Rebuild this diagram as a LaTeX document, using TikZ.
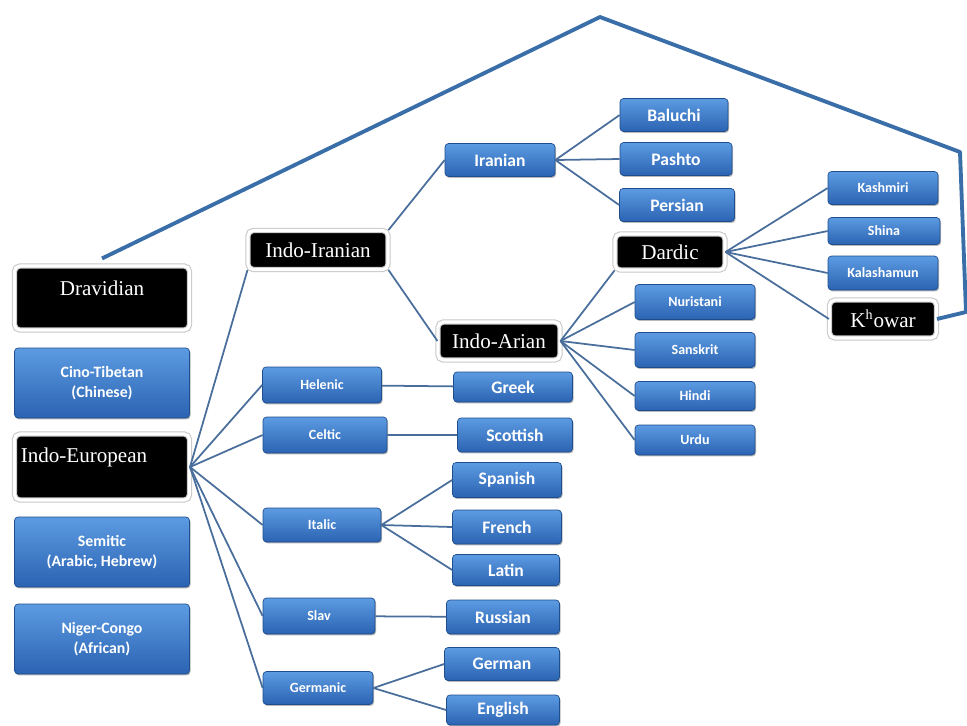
\documentclass[tikz,border=0pt]{standalone}
\usepackage{fontspec}
\setmainfont{Liberation Serif}
\newfontfamily\carlito{Carlito}
\usetikzlibrary{shadows}
\definecolor{boxtop}{HTML}{5C9BE2}
\definecolor{boxbot}{HTML}{2B63B2}
\definecolor{boxedge}{HTML}{1F4E8C}
\definecolor{linkcol}{HTML}{4A6E9C}
\definecolor{rimcol}{HTML}{3A6EA8}
\tikzstyle{lang} = [rectangle, rounded corners=2pt, top color=boxtop, bottom color=boxbot, draw=boxedge, text=white, font=\carlito\bfseries, minimum width=2.3cm, minimum height=0.66cm, inner sep=1pt, text centered, drop shadow={shadow xshift=0.6pt, shadow yshift=-0.8pt, fill=black!55}]
\tikzstyle{sublang} = [lang, font=\carlito\bfseries\footnotesize]
\tikzstyle{bigbox} = [lang, font=\carlito\bfseries\small, minimum width=3.5cm, minimum height=1.4cm, align=center]
\tikzstyle{family} = [rectangle, rounded corners=3pt, fill=black, draw=black!22, double=white, double distance=1.8pt, line width=0.6pt, text=white, font=\large, inner sep=2pt, drop shadow={shadow xshift=0.8pt, shadow yshift=-0.8pt, fill=black!20}]
\tikzstyle{link} = [draw=linkcol, line width=1pt]
\tikzstyle{rim} = [draw=rimcol, line width=2.2pt, line join=round]
\begin{document}
\begin{tikzpicture}[x=0.02cm, y=-0.02cm]
\useasboundingbox (0,0) rectangle (967,725);
% left column
\node (Dravidian) [family, minimum width=3.5cm, minimum height=1.28cm, align=center] at (102,298) {Dravidian\\[-3pt]\mbox{}};
\node (CinoTibetan) [bigbox] at (102,383) {Cino-Tibetan\\(Chinese)};
\node (IndoEuropean) [family, minimum width=3.5cm, minimum height=1.32cm, text width=3.25cm, align=left] at (102,467) {Indo-European\\\mbox{}};
\node (Semitic) [bigbox] at (102,552) {Semitic\\(Arabic, Hebrew)};
\node (NigerCongo) [bigbox] at (102,639) {Niger-Congo\\(African)};
% indo-iranian branch
\node (IndoIranian) [family, minimum width=2.8cm, minimum height=0.78cm] at (318,250) {Indo-Iranian};
\node (Iranian) [lang, minimum width=2.2cm] at (500,160) {Iranian};
\node (Baluchi) [lang, minimum width=2.16cm] at (674,115) {Baluchi};
\node (Pashto) [lang, minimum width=2.24cm] at (676,159) {Pashto};
\node (Persian) [lang, minimum width=2.3cm] at (677,205) {Persian};
\node (IndoArian) [family, minimum width=2.44cm, minimum height=0.76cm] at (499,341) {Indo-Arian};
\node (Dardic) [family, minimum width=2.2cm, minimum height=0.72cm] at (670,252) {Dardic};
\node (Nuristani) [sublang, minimum width=2.4cm, minimum height=0.7cm] at (695,302) {Nuristani};
\node (Sanskrit) [sublang, minimum width=2.4cm, minimum height=0.7cm] at (695,350) {Sanskrit};
\node (Hindi) [sublang, minimum width=2.4cm, minimum height=0.58cm] at (695,396) {Hindi};
\node (Urdu) [sublang, minimum width=2.4cm, minimum height=0.6cm] at (695,440) {Urdu};
\node (Kashmiri) [sublang, minimum width=2.2cm] at (883,188) {Kashmiri};
\node (Shina) [sublang, minimum width=2.24cm, minimum height=0.54cm] at (884,231) {Shina};
\node (Kalashamun) [sublang, minimum width=2.2cm, minimum height=0.68cm] at (883,273) {Kalashamun};
\node (Khowar) [family, minimum width=2.14cm, minimum height=0.76cm] at (883,319) {K\textsuperscript{h}owar};
% european branches
\node (Helenic) [sublang, minimum width=2.38cm, minimum height=0.72cm] at (322,385) {Helenic};
\node (Greek) [lang, minimum width=2.38cm, minimum height=0.6cm] at (513,387) {Greek};
\node (Celtic) [sublang, minimum width=2.48cm, minimum height=0.72cm] at (325,435) {Celtic};
\node (Scottish) [lang, minimum width=2.3cm, minimum height=0.68cm] at (515,435) {Scottish};
\node (Italic) [sublang, minimum width=2.36cm, minimum height=0.68cm] at (322,525) {Italic};
\node (Spanish) [lang, minimum width=2.18cm, minimum height=0.7cm] at (507,480) {Spanish};
\node (French) [lang, minimum width=2.18cm, minimum height=0.68cm] at (507,527) {French};
\node (Latin) [lang, minimum width=2.14cm, minimum height=0.62cm] at (506,570) {Latin};
\node (Slav) [sublang, minimum width=2.24cm, minimum height=0.72cm] at (319,616) {Slav};
\node (Russian) [lang, minimum width=2.26cm, minimum height=0.68cm] at (503,617) {Russian};
\node (Germanic) [sublang, minimum width=2.2cm, minimum height=0.66cm] at (318,688) {Germanic};
\node (German) [lang, minimum width=2.3cm, minimum height=0.66cm] at (502,664) {German};
\node (English) [lang, minimum width=2.26cm, minimum height=0.6cm] at (503,710) {English};
% connectors
\draw [link] (IndoEuropean.east) -- (IndoIranian.south west);
\foreach \n in {Helenic, Celtic, Italic, Slav, Germanic}
  \draw [link] (IndoEuropean.east) -- (\n.west);
\draw [link] (IndoIranian.north east) -- (Iranian.west);
\draw [link] (IndoIranian.south east) -- (IndoArian.west);
\foreach \n in {Baluchi, Pashto, Persian}
  \draw [link] (Iranian.east) -- (\n.west);
\draw [link] (IndoArian.east) -- (Dardic.south west);
\foreach \n in {Nuristani, Sanskrit, Hindi, Urdu}
  \draw [link] (IndoArian.east) -- (\n.west);
\foreach \n in {Kashmiri, Shina, Kalashamun, Khowar}
  \draw [link] (Dardic.east) -- (\n.west);
\draw [link] (Helenic) -- (Greek);
\draw [link] (Celtic) -- (Scottish);
\foreach \n in {Spanish, French, Latin}
  \draw [link] (Italic.east) -- (\n.west);
\draw [link] (Slav) -- (Russian);
\foreach \n in {German, English}
  \draw [link] (Germanic.east) -- (\n.west);
% outer line
\coordinate (peak) at (600,17);
\coordinate (corner) at (960,152);
\coordinate (edge) at (966,312);
\draw [rim] ([yshift=4pt]Dravidian.north) -- (peak) -- (corner) -- (edge) -- (Khowar.east);
\end{tikzpicture}
\end{document}
